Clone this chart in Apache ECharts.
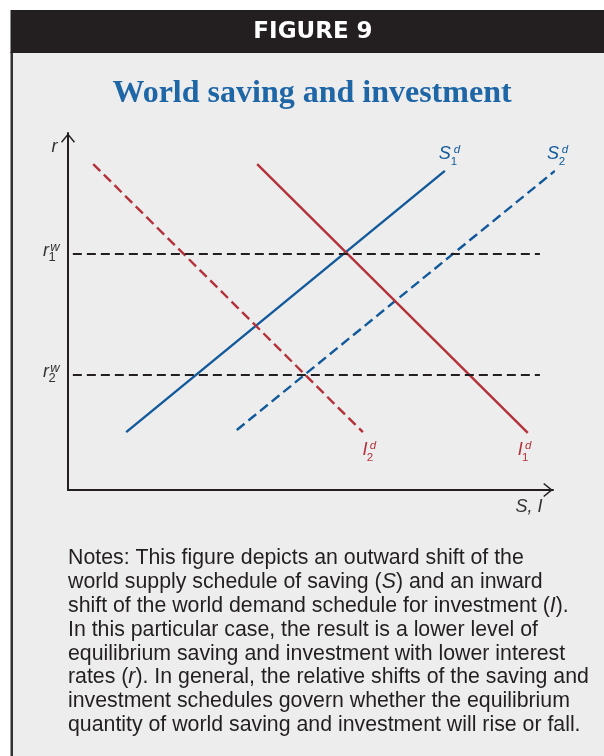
<!DOCTYPE html>
<html>
<head>
<meta charset="utf-8">
<title>World saving and investment</title>
<script src="https://cdn.jsdelivr.net/npm/echarts@6/dist/echarts.min.js"></script>
<style>
  html, body { margin: 0; padding: 0; background: #fff; }
  #chart { width: 604px; height: 756px; }
</style>
</head>
<body>
<div id="chart"></div>
<script>
// schedules (x = S, I ; y = r ; both axes run 0-100)
const saving1 = [[12, 16.2], [77.7, 89.4]];
const saving2 = [[34.8, 16.8], [100.4, 89.4]];
const invest1 = [[39, 91.3], [94.8, 16.0]];
const invest2 = [[5.2, 91.3], [60.8, 16.2]];

// world interest rates r1w / r2w and where their guide lines start and stop
const rateLevels = [66.1, 32.2];
const rateSubs = ['1', '2'];
const rateSpan = [1, 97.3];

const notesLines = [
  'Notes: This figure depicts an outward shift of the',
  'world supply schedule of saving ({i|S}) and an inward',
  'shift of the world demand schedule for investment ({i|I}).',
  'In this particular case, the result is a lower level of',
  'equilibrium saving and investment with lower interest',
  'rates ({i|r}). In general, the relative shifts of the saving and',
  'investment schedules govern whether the equilibrium',
  'quantity of world saving and investment will rise or fall.'
];

const BLUE = '#11599b';
const RED = '#b3323a';
const INK = '#231f20';
const SANS = '"Liberation Sans", Arial, sans-serif';
const NOTE_SIZE = 21.3;

// open chevron used as axis arrow head (points up before rotation)
const ARROW = 'path://M0,8.6L7,0L14,8.6L12.9,9.6L7,2.3L1.1,9.6Z';

// text labels hung on points of the chart; offsets are in pixels
const SUP_S = [12, -4], SUB_S = [9, 8];
const SUP_I = [8, -4.5], SUB_I = [5, 8];
const SUP_R = [9, -4], SUB_R = [6, 6];
const labels = [
  { at: [0, 100], main: 'r', dx: -13.5, dy: 14, color: '#333' },
  { at: [100, 0], main: 'S, I', dx: -24, dy: 17, color: '#333' },
  { at: saving1[1], main: 'S', sub: '1', sup: 'd', dx: 0, dy: -17, color: BLUE, supOff: SUP_S, subOff: SUB_S },
  { at: saving2[1], main: 'S', sub: '2', sup: 'd', dx: -2, dy: -17, color: BLUE, supOff: SUP_S, subOff: SUB_S },
  { at: invest1[1], main: 'I', sub: '1', sup: 'd', dx: -7.5, dy: 17, color: RED, supOff: SUP_I, subOff: SUB_I },
  { at: invest2[1], main: 'I', sub: '2', sup: 'd', dx: 2, dy: 18, color: RED, supOff: SUP_I, subOff: SUB_I }
];
rateLevels.forEach((lvl, i) => {
  labels.push({ at: [0, lvl], main: 'r', sub: rateSubs[i], sup: 'w', dx: -22, dy: -3, color: '#333', supOff: SUP_R, subOff: SUB_R, small: 13 });
});

function renderLabel(params, api) {
  const lab = labels[params.dataIndex];
  const p = api.coord([api.value(0), api.value(1)]);
  const x = p[0] + lab.dx;
  const y = p[1] + lab.dy;
  const base = { fill: lab.color, fontFamily: SANS, align: 'center', verticalAlign: 'middle' };
  const children = [
    { type: 'text', x: x, y: y, style: Object.assign({}, base, { text: lab.main, fontSize: 18, fontStyle: 'italic' }) }
  ];
  if (lab.sup) {
    children.push({ type: 'text', x: x + lab.supOff[0], y: y + lab.supOff[1],
      style: Object.assign({}, base, { text: lab.sup, fontSize: lab.small || 11.5, fontStyle: 'italic' }) });
  }
  if (lab.sub) {
    children.push({ type: 'text', x: x + lab.subOff[0], y: y + lab.subOff[1],
      style: Object.assign({}, base, { text: lab.sub, fontSize: lab.small || 11.5 }) });
  }
  return { type: 'group', children: children };
}

function curve(data, color, dashed) {
  return {
    type: 'line',
    data: data,
    symbol: 'none',
    clip: false,
    silent: true,
    lineStyle: { color: color, width: 2.4, type: dashed ? [10, 5] : 'solid' }
  };
}

const series = [
  curve(saving1, BLUE, false),
  curve(saving2, BLUE, true),
  curve(invest1, RED, false),
  curve(invest2, RED, true)
];
rateLevels.forEach(lvl => {
  series.push({
    type: 'line',
    data: rateSpan.map(x => [x, lvl]),
    symbol: 'none',
    silent: true,
    lineStyle: { color: INK, width: 2, type: [9, 5] }
  });
});
series.push({
  type: 'custom',
  data: labels.map(l => l.at),
  renderItem: renderLabel,
  silent: true
});

const axisCommon = {
  type: 'value',
  min: 0,
  max: 100,
  axisLine: {
    show: true,
    onZero: false,
    symbol: ['none', ARROW],
    symbolSize: [14, 10],
    symbolOffset: [0, -5],
    lineStyle: { color: INK, width: 2 }
  },
  axisTick: { show: false },
  axisLabel: { show: false },
  splitLine: { show: false }
};

const graphic = [
  { type: 'rect', shape: { x: 13, y: 52, width: 591, height: 704 }, style: { fill: '#ededed' }, z: -10 },
  { type: 'rect', shape: { x: 10.5, y: 52, width: 2.5, height: 704 }, style: { fill: '#333' }, z: -10 },
  { type: 'rect', shape: { x: 10.5, y: 10, width: 594, height: 43 }, style: { fill: INK }, z: -10 },
  { type: 'text', x: 313, y: 32, style: { text: 'FIGURE 9', fill: '#fff', fontFamily: '"DejaVu Sans", sans-serif',
      fontWeight: 'bold', fontSize: 23, align: 'center', verticalAlign: 'middle' } }
];
notesLines.forEach((line, i) => {
  graphic.push({
    type: 'text',
    x: 68,
    y: 558.5 + i * 23.8,
    style: {
      text: line,
      fill: INK,
      fontFamily: SANS,
      fontSize: NOTE_SIZE,
      align: 'left',
      verticalAlign: 'middle',
      rich: { i: { fontStyle: 'italic', fontFamily: SANS, fontSize: NOTE_SIZE, fill: INK } }
    }
  });
});

const chart = echarts.init(document.getElementById('chart'));
chart.setOption({
  animation: false,
  backgroundColor: '#fff',
  title: {
    text: 'World saving and investment',
    left: 312,
    top: 78,
    padding: 0,
    textAlign: 'center',
    textStyle: { fontFamily: '"Liberation Serif", "Times New Roman", serif', fontWeight: 'bold', fontSize: 32, color: '#1f66a6' }
  },
  grid: { left: 68, right: 51, top: 133, bottom: 266, containLabel: false },
  xAxis: axisCommon,
  yAxis: axisCommon,
  graphic: graphic,
  series: series
});
</script>
</body>
</html>
